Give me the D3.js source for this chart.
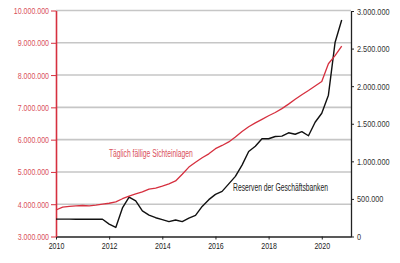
<!DOCTYPE html>
<html>
<head>
<meta charset="utf-8">
<script src="https://cdn.jsdelivr.net/npm/d3@7"></script>
<style>
  body { margin: 0; background: #fff; }
  svg { display: block; font-family: "Liberation Sans", Arial, sans-serif; }
</style>
</head>
<body>
<div id="chart"></div>
<script>
// quarterly points, 2010 Q1 .. 2020 Q4
var quarters = d3.range(44).map(function (i) { return 2010 + i / 4; });

// Täglich fällige Sichteinlagen (left axis)
var sichteinlagen = [3820000, 3910000, 3930000, 3950000, 3960000, 3950000, 3970000, 4000000,
  4030000, 4070000, 4170000, 4250000, 4320000, 4380000, 4470000, 4500000,
  4560000, 4630000, 4720000, 4930000, 5150000, 5300000, 5440000, 5560000,
  5720000, 5820000, 5930000, 6080000, 6250000, 6400000, 6520000, 6630000,
  6740000, 6840000, 6960000, 7100000, 7250000, 7390000, 7520000, 7660000,
  7800000, 8350000, 8600000, 8900000];

// Reserven der Geschäftsbanken (right axis)
var reserven = [231000, 231000, 231000, 230000, 230000, 229000, 229000, 229000,
  165000, 120000, 380000, 525000, 475000, 340000, 285000, 250000,
  225000, 198000, 220000, 198000, 245000, 280000, 400000, 490000,
  560000, 600000, 700000, 800000, 950000, 1130000, 1200000, 1300000,
  1300000, 1330000, 1335000, 1380000, 1360000, 1395000, 1340000, 1520000,
  1640000, 1880000, 2580000, 2880000];

var yearTicks = [2010, 2012, 2014, 2016, 2018, 2020];
var leftTicks = [3000000, 4000000, 5000000, 6000000, 7000000, 8000000, 9000000, 10000000];
var rightTicks = [0, 500000, 1000000, 1500000, 2000000, 2500000, 3000000];

var red = "#d6303f", redText = "#d9505c";

var de = d3.formatLocale({decimal: ",", thousands: ".", grouping: [3], currency: ["", " €"]});
var fmt = de.format(",");

var width = 400, height = 263;
var svg = d3.select("#chart").append("svg")
    .attr("width", width)
    .attr("height", height);

var x = d3.scaleLinear().domain([2010, 2021.1]).range([56, 351]);
var yL = d3.scaleLinear().domain([3000000, 10000000]).range([236.5, 10.5]);
var yR = d3.scaleLinear().domain([0, 3000000]).range([236.5, 11]);

// squeeze text to look like the condensed face of the original
function condense(sel, k) {
  sel.each(function () {
    var w = this.getComputedTextLength();
    d3.select(this).attr("textLength", w * k).attr("lengthAdjust", "spacingAndGlyphs");
  });
}

// grid lines on the left scale
svg.append("g").selectAll("line")
    .data(leftTicks.slice(1))
    .enter().append("line")
    .attr("x1", x(2010)).attr("x2", x.range()[1])
    .attr("y1", function (d) { return yL(d); })
    .attr("y2", function (d) { return yL(d); })
    .style("stroke", "#c6c6c6")
    .style("stroke-width", 1.6);

// x axis
var xAxis = svg.append("g")
    .attr("transform", "translate(0," + yL(3000000) + ")")
    .call(d3.axisBottom(x).tickValues(yearTicks).tickFormat(d3.format("d")).tickSize(3).tickSizeOuter(0));
xAxis.select(".domain").style("stroke", "#222").style("stroke-width", 1.3);
xAxis.selectAll(".tick line").style("stroke", "#222");
xAxis.selectAll("text").attr("y", 6).style("font-size", "9.5px").style("fill", "#222").call(condense, 0.74);

// left axis (red)
var leftAxis = svg.append("g")
    .attr("transform", "translate(" + x(2010) + ",0)")
    .call(d3.axisLeft(yL).tickValues(leftTicks).tickFormat(fmt).tickSize(5).tickSizeOuter(0));
leftAxis.select(".domain").style("stroke", red).style("stroke-width", 1.6);
leftAxis.selectAll(".tick line").style("stroke", red);
leftAxis.selectAll("text").attr("x", -7).style("font-size", "9.5px").style("fill", redText).call(condense, 0.74);

// right axis
var rightAxis = svg.append("g")
    .attr("transform", "translate(" + x.range()[1] + ",0)")
    .call(d3.axisRight(yR).tickValues(rightTicks).tickFormat(fmt).tickSize(3).tickSizeOuter(0));
rightAxis.select(".domain").style("stroke", "#222").style("stroke-width", 1.3);
rightAxis.selectAll(".tick line").style("stroke", "#222");
rightAxis.selectAll("text").attr("x", 6).style("font-size", "9.5px").style("fill", "#333").call(condense, 0.77);

// lines
var redLine = d3.line()
    .x(function (d, i) { return x(quarters[i]); })
    .y(function (d) { return yL(d); });
var blackLine = d3.line()
    .x(function (d, i) { return x(quarters[i]); })
    .y(function (d) { return yR(d); });

svg.append("path")
    .datum(reserven)
    .attr("d", blackLine)
    .style("fill", "none")
    .style("stroke", "#111")
    .style("stroke-width", 1.4)
    .style("stroke-linejoin", "round");

svg.append("path")
    .datum(sichteinlagen)
    .attr("d", redLine)
    .style("fill", "none")
    .style("stroke", red)
    .style("stroke-width", 1.3)
    .style("stroke-linejoin", "round");

// series labels
svg.append("text")
    .attr("x", x(2011.99)).attr("y", yL(5460000))
    .attr("textLength", 84).attr("lengthAdjust", "spacingAndGlyphs")
    .style("font-size", "10px").style("fill", redText)
    .text("Täglich fällige Sichteinlagen");

svg.append("text")
    .attr("x", x(2016.66)).attr("y", yR(605000))
    .attr("textLength", 95).attr("lengthAdjust", "spacingAndGlyphs")
    .style("font-size", "10px").style("fill", "#222")
    .text("Reserven der Geschäftsbanken");
</script>
</body>
</html>
